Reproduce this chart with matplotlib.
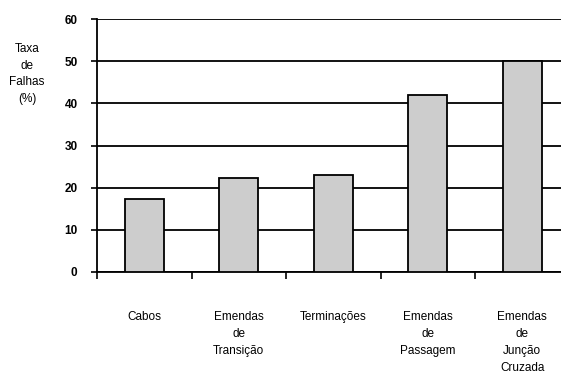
import numpy as np
import matplotlib
matplotlib.use("Agg")
import matplotlib.pyplot as plt

categorias = ["Cabos", "Emendas\nde\nTransição", "Terminações",
              "Emendas\nde\nPassagem", "Emendas\nde\nJunção\nCruzada"]
taxa_falhas = [17.3, 22.3, 23.0, 42.0, 50.0]
y_ticks = [0, 10, 20, 30, 40, 50, 60]

plt.rcParams['font.family'] = ['Liberation Sans', 'DejaVu Sans']

fig = plt.figure(figsize=(5.61, 3.83), dpi=100)
ax = fig.add_axes([97 / 561, 1 - 272 / 383, 472.5 / 561, 253 / 383])

x = np.arange(len(categorias))
ax.set_axisbelow(True)
ax.yaxis.grid(True, color='black', linewidth=1.3)
ax.bar(x, taxa_falhas, width=0.41, color='#cdcdcd', edgecolor='black',
       linewidth=1.3, zorder=3)

ax.set_xlim(-0.5, len(categorias) - 0.5)
ax.set_ylim(0, 60)
ax.set_yticks(y_ticks)
ax.set_yticklabels([str(v) for v in y_ticks], fontsize=8.5, fontweight='bold')
ax.tick_params(axis='y', direction='out', length=4, width=1.2, pad=10)

# marcas do eixo x entre as categorias
ax.set_xticks(np.arange(-0.5, len(categorias), 1.0))
ax.set_xticklabels([])
ax.tick_params(axis='x', direction='out', length=5, width=1.2)

for xi, nome in zip(x, categorias):
    ax.text(xi, -9.3, nome, ha='center', va='top', fontsize=8.5,
            linespacing=1.55)

for lado in ['top', 'right']:
    ax.spines[lado].set_visible(False)
ax.spines['left'].set_linewidth(1.3)
ax.spines['bottom'].set_linewidth(1.3)

fig.text(27 / 561, 1 - 74 / 383, "Taxa\nde\nFalhas\n(%)", ha='center',
         va='center', fontsize=8.5, linespacing=1.5)

fig.savefig("out.png", dpi=100, facecolor='white')
